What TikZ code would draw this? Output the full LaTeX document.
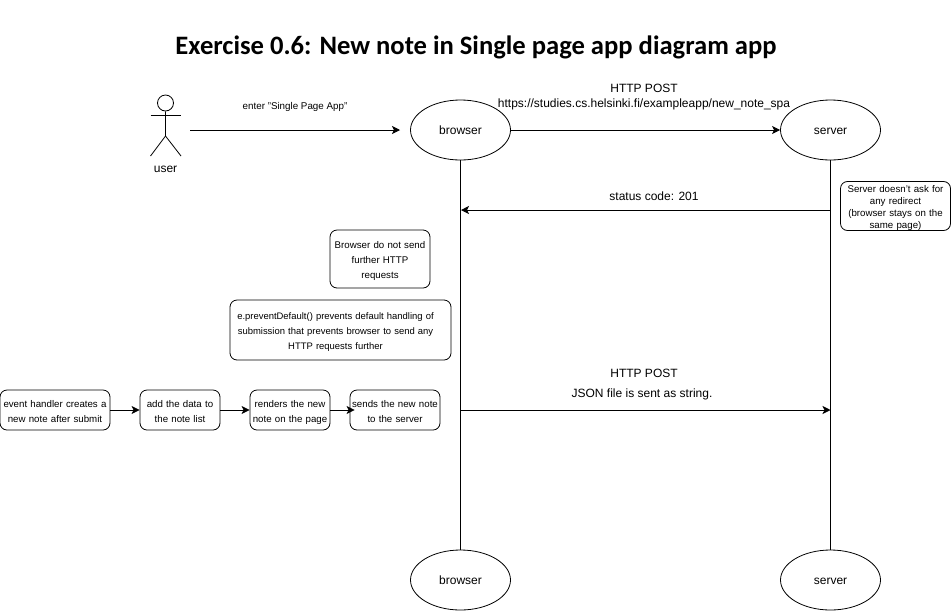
\documentclass[tikz,border=0pt]{standalone}
\usepackage{fontspec}
\setmainfont{Liberation Sans}
\newfontfamily\titlefont{Carlito}
\usetikzlibrary{shapes.geometric,arrows.meta}
\tikzset{
  life/.style={ellipse,draw=black,line width=0.8pt,minimum width=100pt,minimum height=60pt,inner sep=0pt,text height=8.8pt,text depth=0pt,font=\fontsize{12}{14}\selectfont},
  note/.style={draw=black,line width=0.8pt,rounded corners=7pt,inner sep=0pt,align=center,font=\fontsize{9.7}{15}\selectfont},
  notewide/.style={note,font=\fontsize{9.45}{15}\selectfont},
  notetight/.style={note,font=\fontsize{9.7}{12}\selectfont},
  conn/.style={line width=0.8pt,-{Stealth[length=8pt,width=8pt,inset=2pt]}},
  plain/.style={line width=0.8pt},
  lbl/.style={inner sep=0pt,align=center,font=\fontsize{12}{15.5}\selectfont},
  small/.style={inner sep=0pt,font=\fontsize{9.8}{11}\selectfont}
}
\newcommand{\notebox}[6][note]{\node[#1,minimum width=#4pt,minimum height=#5pt,text width=#4pt] (#2) at (#3) {\rule{0pt}{11pt}#6};}
\begin{document}
\begin{tikzpicture}[x=1pt,y=-1pt]
\useasboundingbox (0,0) rectangle (952,611);
\node[inner sep=0pt,font=\titlefont\bfseries\fontsize{26.6}{30}\selectfont] (title) at (476,47) {Exercise 0.6: New note in Single page app diagram app};
% actor
\coordinate (hip) at (165.5,136);
\coordinate (armL) at (150.5,115);
\coordinate (armR) at (180.5,115);
\coordinate (legL) at (150.5,156);
\coordinate (legR) at (181,156);
\node[circle,draw=black,line width=0.8pt,minimum size=16pt,inner sep=0pt] (head) at (165.5,103) {};
\draw[plain] (head.south) -- (hip) -- (legL);
\draw[plain] (hip) -- (legR);
\draw[plain] (armL) -- (armR);
\node[lbl] (user) at (165.5,169.5) {user};
% lifelines
\node[life] (b1) at (460.5,130) {browser};
\node[life] (s1) at (830.5,130) {server};
\node[life] (b2) at (460.5,580) {browser};
\node[life] (s2) at (830.5,580) {server};
\draw[plain] (b1) -- (b2);
\draw[plain] (s1) -- (s2);
% anchors
\coordinate (actorOut) at (190,130);
\coordinate (actorIn) at (400,130);
\coordinate (sA) at (830.5,210);
\coordinate (bA) at (461,210);
\coordinate (bB) at (461,410);
\coordinate (sB) at (830.5,410);
% messages
\draw[conn] (actorOut) -- (actorIn);
\draw[conn] (b1) -- (s1);
\draw[conn] (sA) -- (bA);
\draw[conn] (bB) -- (sB);
\node[small] (m1) at (295,106.5) {enter \char34 Single Page App\char34};
\node[lbl,fill=white,inner sep=0pt] (m2) at (644,97) {HTTP POST\\https://studies.cs.helsinki.fi/exampleapp/new\_note\_spa};
\node[lbl] (m3) at (654,196) {status code: 201};
\node[lbl] (m4) at (644,373) {HTTP POST};
\node[lbl] (m5) at (642,394) {JSON file is sent as string.};
% notes
\notebox{n1}{380,259}{100}{58}{Browser do not send\\further HTTP\\requests}
\notebox[notewide]{n2}{340.5,330}{221}{60}{\hspace*{-10pt}e.preventDefault() prevents default handling of\\\hspace*{-10pt}submission that prevents browser to send any\\\hspace*{-10pt}HTTP requests further}
\notebox[notetight]{n3}{895.5,206}{110}{49}{Server doesn\char39 t ask for\\any redirect\\(browser stays on the\\same page)}
\notebox{e1}{55,410}{110}{40}{event handler creates a\\new note after submit}
\notebox{e2}{180,410}{80}{40}{add the data to\\the note list}
\notebox{e3}{290,410}{80}{40}{renders the new\\note on the page}
\notebox{e4}{395,410}{90}{40}{sends the new note\\to the server}
\draw[conn] (e1) -- (e2);
\draw[conn] (e2) -- (e3);
\draw[conn,shorten >=-5pt] (e3) -- (e4);
\end{tikzpicture}
\end{document}
